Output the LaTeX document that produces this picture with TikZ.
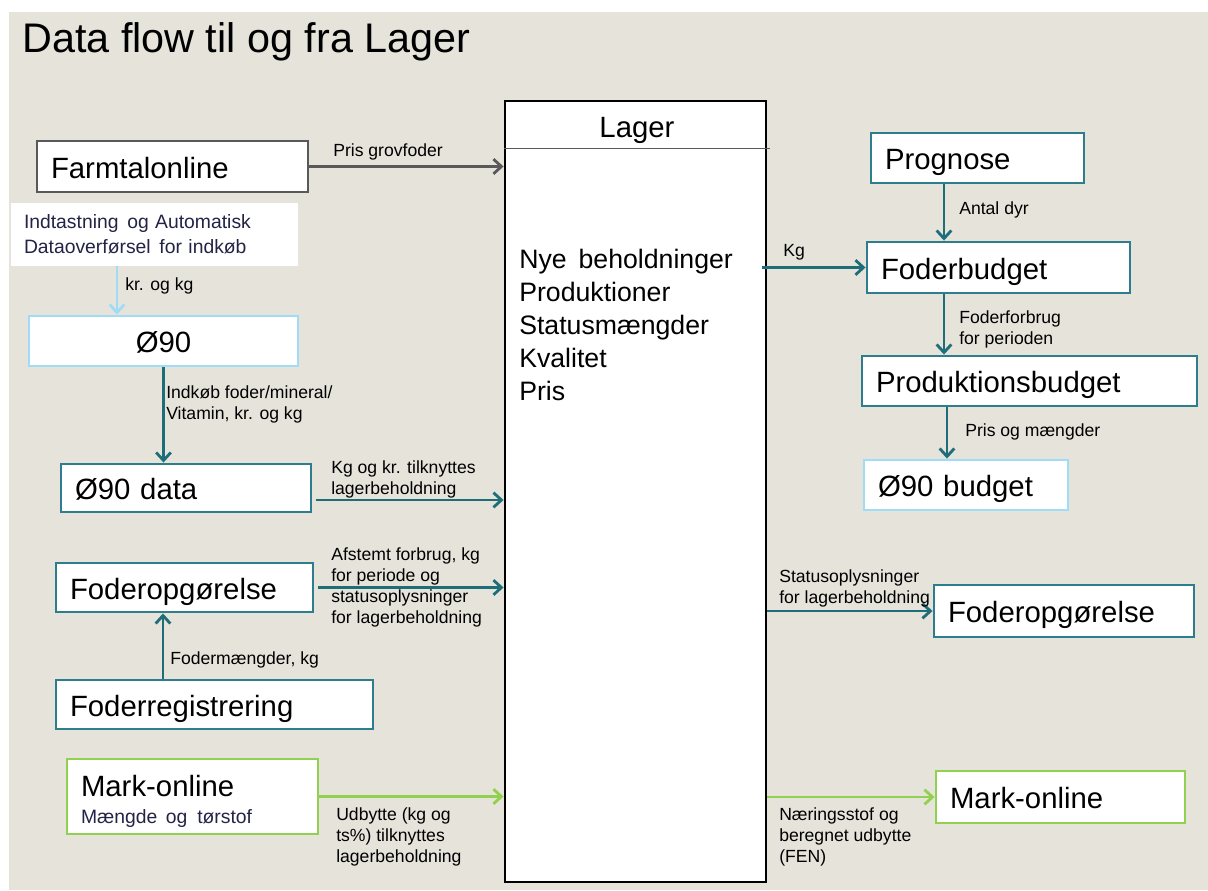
\documentclass[tikz,border=0pt]{standalone}
\usepackage{fontspec}
\setmainfont{Liberation Sans}
\usetikzlibrary{arrows.meta,calc}

\definecolor{bgbeige}{RGB}{230,227,219}
\definecolor{boxteal}{RGB}{45,125,142}
\definecolor{arrteal}{RGB}{30,110,122}
\definecolor{mgreen}{RGB}{146,208,80}
\definecolor{lblue}{RGB}{160,220,245}
\definecolor{dgray}{RGB}{89,89,89}
\definecolor{notenavy}{RGB}{35,35,70}

\newcommand{\titlefont}{\fontsize{31}{36}\selectfont}
\newcommand{\boxfont}{\fontsize{22}{26}\selectfont}
\newcommand{\listfont}{\fontsize{20}{24.75}\selectfont}
\newcommand{\labfont}{\fontsize{13.2}{15.75}\selectfont}
\newcommand{\notefont}{\fontsize{14.5}{18.75}\selectfont}
\newcommand{\wsp}{\hspace{0.45em}}

\tikzset{
  box/.style={draw, fill=white, line width=2.2pt, inner xsep=10.5pt, inner ysep=0pt, align=left, font=\boxfont, text height=17.5pt, text depth=0pt},
  tealbox/.style={box, draw=boxteal},
  greenbox/.style={box, draw=mgreen},
  bluebox/.style={box, draw=lblue},
  graybox/.style={box, draw=dgray},
  flow/.style={line width=2.1pt, -{Straight Barb[length=6pt,width=11pt]}},
  lab/.style={anchor=base west, inner sep=0pt, align=left, font=\labfont},
}

\begin{document}
\begin{tikzpicture}[x=0.75pt,y=0.75pt,yscale=-1]
\useasboundingbox (0,0) rectangle (1208,890);
\fill[white] (0,0) rectangle (1208,890);
\fill[bgbeige] (9,12) rectangle (1208,890);

% title
\node[anchor=base west, inner sep=0pt, font=\titlefont] (title) at (22,52) {Data flow til og fra Lager};

% Lager (multi-line texts sit on their last baseline)
\node[draw, fill=white, line width=2.2pt, minimum width=195.75pt, minimum height=585.75pt] (lager) at (635.5,491.5) {};
\draw[dgray, line width=1.2pt] ($(lager.north west)+(0,49)$) -- ($(lager.north east)+(3,49)$);
\node[anchor=base, inner sep=0pt, font=\boxfont] (lagerhead) at (637,137) {Lager};
\node[anchor=base west, inner sep=0pt, align=left, font=\listfont] (lagerlist) at (519,400) {Nye\wsp beholdninger\\Produktioner\\Statusmængder\\Kvalitet\\Pris};

% left side
\node[graybox, text width=182.25pt, minimum height=38.25pt] (farm) at (172.5,166.5) {Farmtalonline};
\node[fill=white, inner xsep=9.75pt, inner ysep=0pt, text width=195.75pt, minimum height=47.25pt, align=left, font=\notefont, text=notenavy] (indt) at (154.5,234.5) {Indtastning\wsp og Automatisk\\Dataoverførsel\wsp for indkøb};
\node[bluebox, align=center, minimum width=201.75pt, minimum height=37.5pt] (oe90) at (163.5,341) {Ø90};
\node[tealbox, text width=166.5pt, minimum height=36pt] (oe90d) at (186,488) {Ø90 data};
\node[tealbox, text width=171.75pt, minimum height=36.75pt] (fopgl) at (184.5,587.5) {Foderopgørelse};
\node[tealbox, text width=216.75pt, minimum height=36.75pt] (freg) at (214.5,704.5) {Foderregistrering};
\node[greenbox, text height={}, text depth={}, text width=167.25pt, minimum height=56.25pt] (markl) at (192.5,796.5) {\rule{0pt}{23.5pt}Mark-online\\[-5.75pt]{\notefont\color{notenavy}Mængde\wsp og tørstof}};

% right side
\node[tealbox, text width=138.75pt, minimum height=37.5pt] (prog) at (977.5,158) {Prognose};
\node[tealbox, text width=176.25pt, minimum height=38.25pt] (fbud) at (998.5,267.5) {Foderbudget};
\node[tealbox, text width=230.25pt, minimum height=37.5pt] (pbud) at (1029.5,381) {Produktionsbudget};
\node[bluebox, text width=132pt, minimum height=37.5pt] (oe90b) at (966,485) {Ø90 budget};
\node[tealbox, text width=174pt, minimum height=39pt] (fopgr) at (1064,611) {Foderopgørelse};
\node[greenbox, text width=165.75pt, minimum height=39pt] (markr) at (1060.5,797) {Mark-online};

% flows into Lager
\draw[flow, dgray] (farm.east) -- (farm.east -| lager.west);
\draw[flow, lblue] ($(indt.south)+(-37.5,0)$) -- ($(oe90.north)+(-46.5,0)$);
\draw[flow, arrteal] (oe90.south) -- (oe90.south |- oe90d.north);
\draw[flow, arrteal] ($(oe90d.east)+(4,12)$) -- ($(oe90d.east -| lager.west)+(0,12)$);
\draw[flow, arrteal] ($(fopgl.east)+(4,0)$) -- (fopgl.east -| lager.west);
\draw[flow, arrteal] ($(freg.north)+(-51.5,0)$) -- ($(fopgl.south)+(-21.5,0)$);
\draw[flow, mgreen] (markl.east) -- (markl.east -| lager.west);

% flows out of Lager
\draw[flow, arrteal] ($(fbud.west -| lager.east)+(-5,0)$) -- (fbud.west);
\draw[flow, arrteal] ($(prog.south)+(-33.5,0)$) -- ($(fbud.north)+(-54.5,0)$);
\draw[flow, arrteal] ($(fbud.south)+(-54.5,0)$) -- ($(pbud.north)+(-85.5,0)$);
\draw[flow, arrteal] ($(pbud.south)+(-82.5,0)$) -- ($(oe90b.north)+(-19,0)$);
\draw[flow, arrteal] (fopgr.west -| lager.east) -- (fopgr.west);
\draw[flow, mgreen] (markr.west -| lager.east) -- (markr.west);

% labels
\node[lab] (lpris) at (333,156) {Pris grovfoder};
\node[lab] (lkrkg) at (125,290) {kr. og kg};
\node[lab] (lindk) at (166,419) {Indkøb foder/mineral/\\Vitamin, kr. og kg};
\node[lab] (lkgkr) at (331,494) {Kg og kr. tilknyttes\\lagerbeholdning};
\node[lab] (lafst) at (331,623) {Afstemt forbrug, kg\\for periode og\\statusoplysninger\\for lagerbeholdning};
\node[lab] (lfodm) at (170,664) {Fodermængder, kg};
\node[lab] (ludb) at (336,862) {Udbytte (kg og\\ts\%) tilknyttes\\lagerbeholdning};
\node[lab] (lantal) at (959,214) {Antal dyr};
\node[lab] (lkg) at (783,256) {Kg};
\node[lab] (lfodf) at (959,344) {Foderforbrug\\for perioden};
\node[lab] (lprism) at (965,436) {Pris og mængder};
\node[lab] (lstat) at (779,603) {Statusoplysninger\\for lagerbeholdning};
\node[lab] (lnaer) at (779,862) {Næringsstof og\\beregnet udbytte\\(FEN)};
\end{tikzpicture}
\end{document}
